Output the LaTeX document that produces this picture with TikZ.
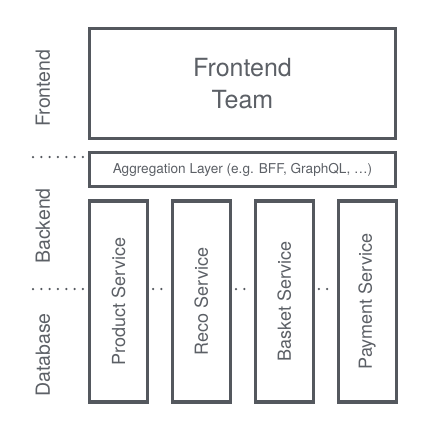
\documentclass[tikz,border=0pt]{standalone}
\usepackage{fontspec}
\setmainfont{TeX Gyre Heros}
\usepackage{graphicx}
\usetikzlibrary{positioning}
\definecolor{boxgray}{RGB}{84,88,94}
\definecolor{textgray}{RGB}{92,96,102}

\begin{document}
\begin{tikzpicture}[x=1pt,y=-1pt,node distance=11pt,
  box/.style={draw=boxgray,line width=3.2pt,fill=white,text=textgray,inner sep=0pt},
  service/.style={box,minimum width=58pt,minimum height=201pt,font=\fontsize{18}{21}\selectfont},
  layer/.style={text=textgray,font=\fontsize{19.5}{23}\selectfont,rotate=90},
  sep/.style={boxgray,line width=2.5pt,line cap=round,dash pattern=on 0pt off 8.33pt}]
  			\useasboundingbox (0,0) rectangle (429,429);
  			\node[box,minimum width=306pt,minimum height=110pt,align=center,
  			  font=\fontsize{25}{32}\selectfont] (team) at (242.5,83.5) {Frontend\\Team};
  			\node[box,minimum width=306pt,minimum height=34pt,
  			  font=\fontsize{13.6}{16}\selectfont] (agg) [below=of team] {Aggregation Layer (e.g. BFF, GraphQL, …)};
  			\node[service] (prod) [below=of agg.south west,anchor=north west] {\rotatebox{90}{Product Service}};
  			\node[service] (reco) [right=21.7pt of prod] {\rotatebox{90}{Reco Service}};
  			\node[service] (bask) [right=21.7pt of reco] {\rotatebox{90}{Basket Service}};
  			\node[service] (pay) [right=21.7pt of bask] {\rotatebox{90}{Payment Service}};
  			\node[layer] (fe) at (43,88) {Frontend};
  			\node[layer] (be) at (43,226) {Backend};
  			\node[layer] (db) at (43,355) {Database};
  			\coordinate (fesep) at (33,157);
  			\coordinate (besep) at (33,289);
  			\draw[sep,shorten >=4pt] (fesep) -- (fesep -| agg.west);
  			\draw[sep,shorten >=4pt] (besep) -- (besep -| prod.west);
  			\foreach \a/\b in {prod/reco,reco/bask,bask/pay}
  			  \draw[sep,shorten <=4pt,shorten >=4pt] (besep -| \a.east) -- (besep -| \b.west);
		\end{tikzpicture}
\end{document}
